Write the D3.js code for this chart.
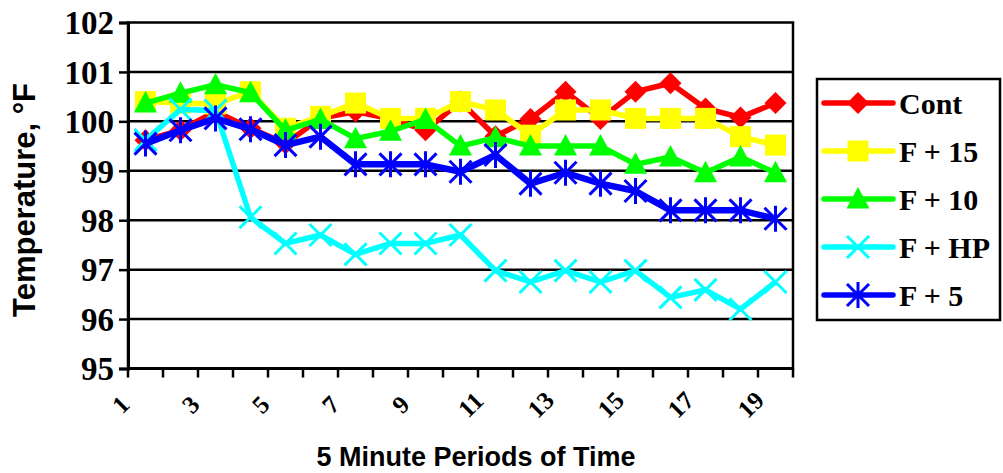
<!DOCTYPE html>
<html><head><meta charset="utf-8">
<script src="https://cdn.jsdelivr.net/npm/d3@7"></script>
<style>html,body{margin:0;padding:0;background:#fff;}svg{display:block;}
.serif{font-family:"Liberation Serif","Times New Roman",Tinos,Times,serif;font-weight:bold;}
.sans{font-family:"Liberation Sans",Arial,Helvetica,sans-serif;font-weight:bold;}
</style>
</head><body>
<script>
const periods = d3.range(1, 20);
const tickLabels = ["1","3","5","7","9","11","13","15","17","19"];
const yTicks = [95,96,97,98,99,100,101,102];
const seriesNames = ["Cont","F + 15","F + 10","F + HP","F + 5"];
const seriesColors = ["#ff0000","#ffff00","#00ff00","#00ffff","#0000ff"];
const seriesMarkers = ["diamond","square","triangle","x","asterisk"];
const contValues = [99.62,99.82,100.2,99.86,99.55,100.06,100.2,100.05,99.82,100.4,99.7,100.05,100.6,100.05,100.6,100.77,100.26,100.08,100.37];
const f15Values  = [100.4,100.37,100.35,100.6,99.86,100.1,100.37,100.06,100.06,100.4,100.23,99.72,100.23,100.23,100.06,100.06,100.06,99.69,99.52];
const f10Values  = [100.37,100.57,100.74,100.58,99.82,100.04,99.65,99.8,100.04,99.5,99.67,99.5,99.5,99.5,99.13,99.28,98.96,99.28,98.96];
const fhpValues  = [99.62,100.24,100.22,98.06,97.53,97.7,97.31,97.53,97.53,97.7,96.98,96.75,96.98,96.75,96.98,96.44,96.59,96.2,96.75];
const f5Values   = [99.55,99.82,100.06,99.84,99.52,99.69,99.13,99.13,99.13,98.98,99.32,98.74,98.96,98.74,98.59,98.2,98.2,98.2,98.03];
const allValues = [contValues,f15Values,f10Values,fhpValues,f5Values];

const W = 1003, H = 473;
const L = 128, R = 793, T = 22.5, B = 368.5;
const svg = d3.select("body").append("svg").attr("width", W).attr("height", H);

const x = d3.scaleBand().domain(periods).range([L, R]);
const y = d3.scaleLinear().domain([95, 102]).range([B, T]);

// gridlines
svg.append("g").selectAll("line").data(yTicks.filter(v => v > 95 && v < 102)).join("line")
  .attr("x1", L).attr("x2", R).attr("y1", d => y(d)).attr("y2", d => y(d))
  .attr("stroke", "#000").attr("stroke-width", 2.5);

// frame
svg.append("rect").attr("x", L).attr("y", T).attr("width", R - L).attr("height", B - T)
  .attr("fill", "none").attr("stroke", "#000").attr("stroke-width", 2.5);

// y axis
const yAxis = svg.append("g").attr("transform", `translate(${L},0)`)
  .call(d3.axisLeft(y).tickValues(yTicks).tickSize(9).tickPadding(5).tickFormat(d3.format("d")));
yAxis.attr("font-family", null).attr("font-size", null);
yAxis.select(".domain").attr("stroke-width", 3);
yAxis.selectAll(".tick line").attr("stroke-width", 2.5);
yAxis.selectAll("text").attr("class", "serif").style("font-size", "33px").attr("fill", "#000").attr("dy", "0.34em");

// x axis (ticks between categories)
const boundaries = periods.map(p => x(p)).concat([R]);
const xg = svg.append("g");
xg.append("line").attr("x1", L).attr("x2", R).attr("y1", B).attr("y2", B).attr("stroke", "#000").attr("stroke-width", 3);
xg.selectAll("line.tk").data(boundaries).join("line").attr("class", "tk")
  .attr("x1", d => d).attr("x2", d => d).attr("y1", B).attr("y2", B + 9)
  .attr("stroke", "#000").attr("stroke-width", 2.5);
xg.selectAll("text").data(tickLabels).join("text")
  .attr("transform", d => `translate(${x(+d) + x.bandwidth() / 2 - 25},${B + 36}) rotate(-45)`)
  .attr("text-anchor", "middle").attr("dy", "0.35em")
  .attr("class", "serif").style("font-size", "25px")
  .text(d => d);

// titles
svg.append("text").attr("x", 476).attr("y", 466).attr("text-anchor", "middle")
  .attr("class", "sans").style("font-size", "27px")
  .text("5 Minute Periods of Time");
svg.append("text").attr("transform", "translate(35,317) rotate(-90)").attr("text-anchor", "start")
  .attr("class", "sans").style("font-size", "31px")
  .text("Temperature, °F");

// markers
function drawMarker(g, type, color) {
  const s = 11;
  if (type === "diamond") g.append("path").attr("d", `M0,${-s}L${s},0L0,${s}L${-s},0Z`).attr("fill", color);
  else if (type === "square") g.append("rect").attr("x", -10.5).attr("y", -10.5).attr("width", 21).attr("height", 21).attr("fill", color);
  else if (type === "triangle") g.append("path").attr("d", `M0,-12L11.5,9.5L-11.5,9.5Z`).attr("fill", color);
  else if (type === "x") g.append("path").attr("d", `M-11,-11L11,11M-11,11L11,-11`).attr("stroke", color).attr("stroke-width", 3).attr("fill", "none");
  else if (type === "asterisk") g.append("path").attr("d", `M-11,-11L11,11M-11,11L11,-11M0,-13L0,13`).attr("stroke", color).attr("stroke-width", 3).attr("fill", "none");
}

const cx = p => x(p) + x.bandwidth() / 2;
const line = d3.line().x((d, i) => cx(periods[i])).y(d => y(d));

allValues.forEach((vals, si) => {
  const g = svg.append("g");
  g.append("path").datum(vals).attr("d", line).attr("fill", "none")
    .attr("stroke", seriesColors[si]).attr("stroke-width", si === 4 ? 6.5 : 5.5).attr("stroke-linejoin", "round");
  vals.forEach((v, i) => {
    const mg = g.append("g").attr("transform", `translate(${cx(periods[i])},${y(v)})`);
    drawMarker(mg, seriesMarkers[si], seriesColors[si]);
  });
});

// legend
const lg = svg.append("g");
lg.append("rect").attr("x", 817).attr("y", 79).attr("width", 183).attr("height", 241)
  .attr("fill", "#fff").attr("stroke", "#000").attr("stroke-width", 2.5);
const rowY = [103, 151, 199, 247, 295];
seriesNames.forEach((name, i) => {
  lg.append("line").attr("x1", 824).attr("x2", 893).attr("y1", rowY[i]).attr("y2", rowY[i])
    .attr("stroke", seriesColors[i]).attr("stroke-width", 5.5).attr("stroke-linecap", "round");
  const mg = lg.append("g").attr("transform", `translate(858,${rowY[i]})`);
  drawMarker(mg, seriesMarkers[i], seriesColors[i]);
  lg.append("text").attr("x", 899).attr("y", rowY[i]).attr("dy", "0.35em")
    .attr("class", "serif").style("font-size", "30px")
    .text(name);
});
</script>
</body></html>
